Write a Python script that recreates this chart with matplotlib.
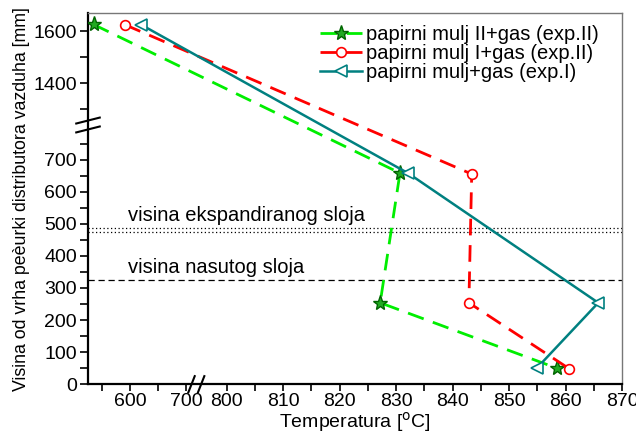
import numpy as np
import matplotlib
matplotlib.use("Agg")
import matplotlib.pyplot as plt
from matplotlib.ticker import FixedLocator

plt.rcParams['font.family'] = ['Liberation Sans', 'DejaVu Sans']

# data
temp_green = [535, 830.7, 827.2, 858.5]
height_green = [1627, 658, 254, 50]
temp_red = [591, 843.4, 842.9, 860.7]
height_red = [1626, 655, 254, 48]
temp_teal = [620, 832.2, 865.8, 854.9]
height_teal = [1626, 657, 254, 50]

label_green = "papirni mulj II+gas (exp.II)"
label_red = "papirni mulj I+gas (exp.II)"
label_teal = "papirni mulj+gas (exp.I)"

expanded_layer = [488, 473]
fixed_layer = 324

x_major = [600, 700, 800, 810, 820, 830, 840, 850, 860, 870]
x_minor = [550, 650, 805, 815, 825, 835, 845, 855, 865]
y_major = [0, 100, 200, 300, 400, 500, 600, 700, 1400, 1600]
y_minor = [50, 150, 250, 350, 450, 550, 650, 750, 1300, 1500]

# broken axes: piecewise linear scales (in pixels of the axes)
x_pts = [0, 525, 715, 795, 870, 2000]
x_pix = [-294.0, 0, 106.4, 110.25, 534.0, 534.0 + 1130 * 5.65]
y_pts = [-1000, 0, 800, 1250, 1670, 5000]
y_pix = [-321.0, 0, 256.8, 261.8, 371.0, 371.0 + 3330 * 0.26]


def fx(v):
    return np.interp(v, x_pts, x_pix)


def fx_inv(v):
    return np.interp(v, x_pix, x_pts)


def fy(v):
    return np.interp(v, y_pts, y_pix)


def fy_inv(v):
    return np.interp(v, y_pix, y_pts)


fig = plt.figure(figsize=(6.36, 4.33), dpi=100)
ax = fig.add_axes([88 / 636, (433 - 384.3) / 433, 534 / 636, 371 / 433])
ax.set_xscale('function', functions=(fx, fx_inv))
ax.set_yscale('function', functions=(fy, fy_inv))
ax.set_xlim(525, 870)
ax.set_ylim(0, 1670)

ax.plot(temp_green, height_green, color='#00ee00', lw=2, ls=(0, (6, 3.5)),
        marker='*', ms=11, mfc='#22aa22', mec='#006400', label=label_green, zorder=3)
ax.plot(temp_red, height_red, color='#ff0000', lw=2, ls=(0, (6, 3.5)),
        marker='o', ms=7, mfc='white', mec='#ff0000', mew=1.2, label=label_red, zorder=3)
ax.plot(temp_teal, height_teal, color='#008080', lw=1.8, ls='-',
        marker='<', ms=8, mfc='white', mec='#008080', mew=1.2, label=label_teal, zorder=3)

for h in expanded_layer:
    ax.axhline(h, color='black', lw=0.9, ls=(0, (1, 2)), zorder=1)
ax.axhline(fixed_layer, color='black', lw=0.9, ls=(0, (5, 3)), zorder=1)
ax.text(596, 496, "visina ekspandiranog sloja", fontsize=14.5, va='bottom')
ax.text(596, 333, "visina nasutog sloja", fontsize=14.5, va='bottom')

ax.xaxis.set_major_locator(FixedLocator(x_major))
ax.xaxis.set_minor_locator(FixedLocator(x_minor))
ax.yaxis.set_major_locator(FixedLocator(y_major))
ax.yaxis.set_minor_locator(FixedLocator(y_minor))
ax.set_xticklabels([str(v) for v in x_major])
ax.set_yticklabels([str(v) for v in y_major])
ax.tick_params(which='both', direction='out', labelsize=14, width=1.2, pad=2)
ax.tick_params(which='both', length=6)
ax.tick_params(axis='x', which='both', length=5, pad=1)

for side in ['left', 'bottom']:
    ax.spines[side].set_linewidth(1.6)
for side in ['top', 'right']:
    ax.spines[side].set_color('#777777')
    ax.spines[side].set_linewidth(1.0)

ax.set_xlabel(r"Temperatura [$^{\mathrm{o}}$C]", fontsize=14, labelpad=0)
ax.set_ylabel("Visina od vrha peèurki distributora vazduha [mm]", fontsize=12.8, labelpad=2)

# break marks
bx = (fx(755) - fx(525)) / 534.0
by = (fy(1025) - fy(0)) / 371.0
for dx in [-0.009, 0.009]:
    ax.plot([bx + dx - 0.006, bx + dx + 0.006], [-0.022, 0.022], transform=ax.transAxes,
            color='black', lw=1.5, clip_on=False, zorder=5)
for dy in [-0.012, 0.012]:
    ax.plot([-0.022, 0.022], [by + dy - 0.008, by + dy + 0.008], transform=ax.transAxes,
            color='black', lw=1.5, clip_on=False, zorder=5)

ax.legend(loc='upper right', frameon=False, fontsize=14.5, handlelength=2.1,
          handletextpad=0.2, labelspacing=0.0, borderaxespad=0.2,
          bbox_to_anchor=(0.98, 1.0))

fig.savefig("out.png", dpi=100)
